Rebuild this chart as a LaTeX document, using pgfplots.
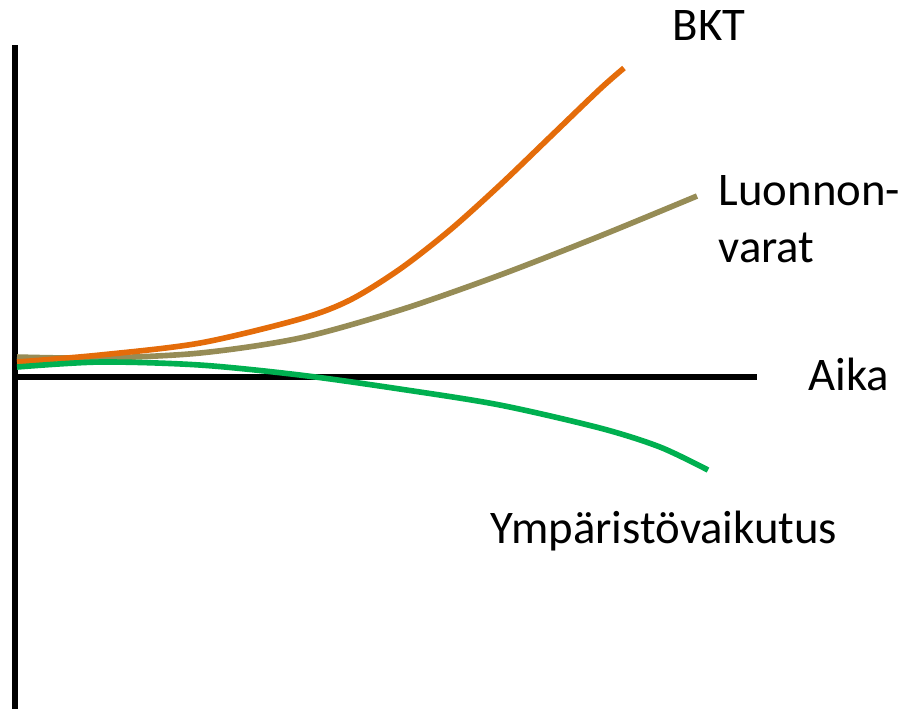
\documentclass[border=0pt]{standalone}
\usepackage{pgfplots}
\pgfplotsset{compat=1.18}
\usepackage{fontspec}
\setmainfont{Carlito}
\definecolor{bkt}{HTML}{E46C0A}
\definecolor{luon}{HTML}{968C56}
\definecolor{ymp}{HTML}{00B050}
\begin{document}
\begin{tikzpicture}
\begin{axis}[
  scale only axis, width=9.2cm, height=7.09cm,
  xmin=0, xmax=920, ymin=0, ymax=709, y dir=reverse,
  hide axis, clip=false,
]
\path (axis cs:0,0) rectangle (axis cs:920,709);
% axes
\addplot[black, line width=1.8pt, line cap=butt] coordinates {(15,45) (15,709)};
\addplot[black, line width=1.8pt, line cap=butt] coordinates {(15,377) (757,377)};
% curves
\addplot[luon, line width=1.6pt, smooth] coordinates {
(17,357) (100,358) (200,353) (300,338) (400,310) (500,275) (600,236) (697,196)};
\addplot[bkt, line width=1.6pt, smooth] coordinates {
(17,362) (100,355) (200,343) (300,319) (350,300) (400,269) (450,230) (500,185) (550,137) (600,89) (624,68)};
\addplot[ymp, line width=1.6pt, smooth] coordinates {
(17,367) (100,362) (200,365) (300,375) (400,389) (500,405) (600,428) (660,447) (708,470)};
\node[anchor=base west, inner sep=0pt, font=\fontsize{13.3}{16}\selectfont] at (axis cs:672,40) {BKT};
\node[anchor=base west, inner sep=0pt, font=\fontsize{13.3}{16}\selectfont] at (axis cs:718,205) {Luonnon-};
\node[anchor=base west, inner sep=0pt, font=\fontsize{13.3}{16}\selectfont] at (axis cs:718,262) {varat};
\node[anchor=base west, inner sep=0pt, font=\fontsize{13.3}{16}\selectfont] at (axis cs:808,390) {Aika};
\node[anchor=base west, inner sep=0pt, font=\fontsize{13.3}{16}\selectfont] at (axis cs:490,543) {Ympäristövaikutus};
\end{axis}
\end{tikzpicture}
\end{document}
